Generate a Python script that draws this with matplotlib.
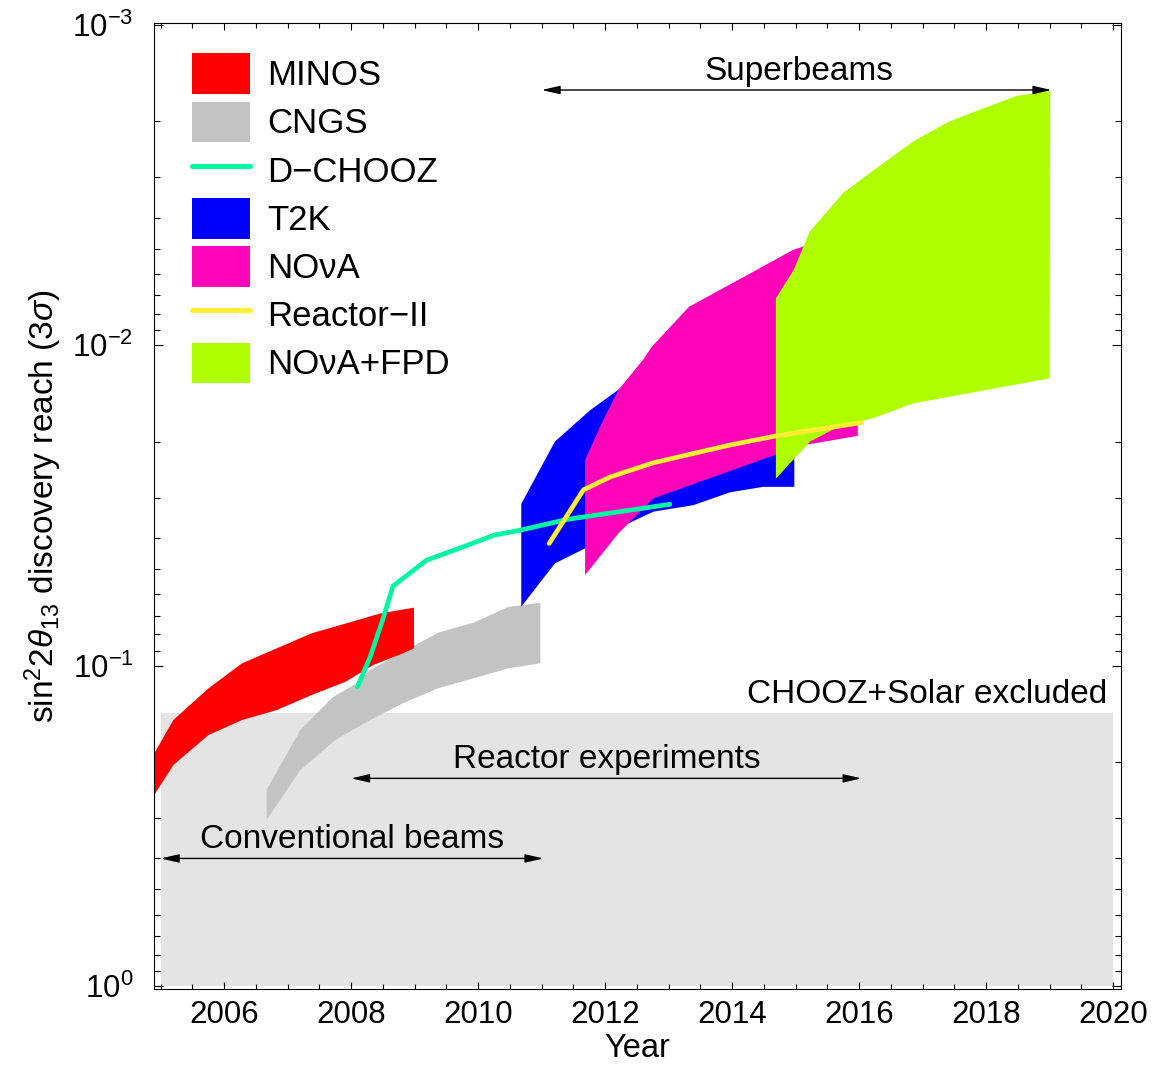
import numpy as np
import matplotlib
matplotlib.use('Agg')
from matplotlib import pyplot as plt
from matplotlib.patches import Patch
from matplotlib.lines import Line2D
from matplotlib.ticker import MultipleLocator, FixedLocator, LogLocator, LogFormatterSciNotation

plt.rcParams['font.family'] = ['Liberation Sans', 'DejaVu Sans']
plt.rcParams['mathtext.fontset'] = 'custom'
plt.rcParams['mathtext.rm'] = 'Liberation Sans'
plt.rcParams['mathtext.it'] = 'Liberation Sans:italic'

# --- data (year, sin^2 2theta13 reach) ---
minos_top_year = [2004.9, 2005.2, 2005.75, 2006.28, 2006.83, 2007.38, 2007.93, 2008.46, 2008.99]
minos_top = [0.188, 0.148, 0.118, 0.0985, 0.0884, 0.0793, 0.0738, 0.0688, 0.066]
minos_bot_year = [2004.9, 2005.2, 2005.75, 2006.28, 2006.83, 2007.38, 2007.91, 2008.35, 2008.82, 2008.99]
minos_bot = [0.2535, 0.2044, 0.165, 0.148, 0.1377, 0.1236, 0.1124, 0.0996, 0.0916, 0.0884]

cngs_top_year = [2006.67, 2007.20, 2007.72, 2008.09, 2008.30, 2008.82, 2009.37, 2009.93, 2010.48, 2010.98]
cngs_top = [0.2445, 0.159, 0.1252, 0.1136, 0.1033, 0.0906, 0.079, 0.0735, 0.0656, 0.0637]
cngs_bot_year = [2006.67, 2007.20, 2007.75, 2008.30, 2008.82, 2009.37, 2009.93, 2010.48, 2010.98]
cngs_bot = [0.303, 0.212, 0.1708, 0.148, 0.131, 0.1178, 0.1096, 0.102, 0.0985]

t2k_top_year = [2010.68, 2011.21, 2011.76, 2012.24, 2013.0, 2014.0, 2014.98]
t2k_top = [0.0313, 0.020, 0.016, 0.01365, 0.011, 0.009, 0.008]
t2k_bot_year = [2010.68, 2011.21, 2011.685, 2012.37, 2012.76, 2013.39, 2013.97, 2014.49, 2014.98]
t2k_bot = [0.0655, 0.048, 0.0431, 0.036, 0.0331, 0.0316, 0.0288, 0.0277, 0.0277]

nova_top_year = [2011.685, 2011.92, 2012.21, 2012.6, 2012.74, 2013.32, 2014.96, 2015.14, 2015.98]
nova_top = [0.02285, 0.018, 0.0138, 0.0111, 0.0101, 0.0076, 0.00505, 0.00491, 0.0042]
nova_bot_year = [2011.685, 2012.21, 2012.76, 2014.68, 2015.15, 2015.98]
nova_bot = [0.0522, 0.0387, 0.0301, 0.022, 0.0205, 0.0192]

fpd_top_year = [2014.69, 2014.97, 2015.22, 2015.75, 2016.30, 2016.86, 2017.41, 2017.91, 2018.48, 2019.01]
fpd_top = [0.00715, 0.00583, 0.00443, 0.00335, 0.00278, 0.00231, 0.00201, 0.00184, 0.00167, 0.00161]
fpd_bot_year = [2014.69, 2015.23, 2015.57, 2016.28, 2016.86, 2019.0]
fpd_bot = [0.0261, 0.02, 0.01842, 0.01675, 0.0152, 0.0127]

dchooz_year = [2008.10, 2008.30, 2008.48, 2008.66, 2009.19, 2009.70, 2010.25, 2010.67, 2011.40, 2013.02]
dchooz = [0.1165, 0.094, 0.0738, 0.0565, 0.0469, 0.0431, 0.0392, 0.0378, 0.035, 0.0314]

reactor2_year = [2011.12, 2011.66, 2012.08, 2012.76, 2013.97, 2014.70, 2015.60, 2016.04]
reactor2 = [0.0416, 0.0283, 0.0258, 0.0233, 0.0205, 0.0192, 0.018, 0.01747]

excl_year = [2005, 2020]
excl_lo, excl_hi = 0.1403, 1.0

labels = ['MINOS', 'CNGS', 'D\u2212CHOOZ', 'T2K', 'NO\u03bdA', 'Reactor\u2212II', 'NO\u03bdA+FPD']
colors = ['#ff0000', '#c3c3c3', '#00f7a2', '#0000ff', '#ff05b9', '#ffee33', '#b0ff00']


def band(ax, xt, yt, xb, yb, color, z):
    # closed polygon: top edge forward, bottom edge back
    xs = list(xt) + list(xb)[::-1]
    ys = list(yt) + list(yb)[::-1]
    ax.fill(xs, ys, color=color, lw=0, zorder=z)


fig = plt.figure(figsize=(11.6, 10.74), dpi=100)
ax = fig.add_axes([0.1330, 0.0789, 0.8331, 0.8999])
ax.set_yscale('log')

ax.fill_between(excl_year, excl_lo, excl_hi, color='#e4e4e4', lw=0, zorder=0)

band(ax, cngs_top_year, cngs_top, cngs_bot_year, cngs_bot, colors[1], 1)
band(ax, minos_top_year, minos_top, minos_bot_year, minos_bot, colors[0], 2)
band(ax, t2k_top_year, t2k_top, t2k_bot_year, t2k_bot, colors[3], 3)
band(ax, nova_top_year, nova_top, nova_bot_year, nova_bot, colors[4], 4)
band(ax, fpd_top_year, fpd_top, fpd_bot_year, fpd_bot, colors[6], 5)

ax.plot(dchooz_year, dchooz, color=colors[2], lw=3.4, solid_capstyle='round', zorder=6)
ax.plot(reactor2_year, reactor2, color=colors[5], lw=3.4, solid_capstyle='round', zorder=7)

ax.set_xlim(2004.9, 2020.12)
ax.set_ylim(1.024, 0.000987)

# arrows and annotation text
arr = dict(arrowstyle='<|-|>,head_length=1.1,head_width=0.25', color='black',
           lw=1.0, shrinkA=0, shrinkB=0, mutation_scale=10)
ax.annotate('', xy=(2019.03, 0.0016), xytext=(2011.0, 0.0016), arrowprops=arr, zorder=8)
ax.annotate('', xy=(2016.04, 0.225), xytext=(2008.0, 0.225), arrowprops=arr, zorder=8)
ax.annotate('', xy=(2011.03, 0.40), xytext=(2005.0, 0.40), arrowprops=arr, zorder=8)

ax.text(2015.05, 0.00149, 'Superbeams', fontsize=24, ha='center', va='baseline', zorder=8)
ax.text(2012.03, 0.2093, 'Reactor experiments', fontsize=24, ha='center', va='baseline', zorder=8)
ax.text(2008.01, 0.372, 'Conventional beams', fontsize=24, ha='center', va='baseline', zorder=8)
ax.text(2019.91, 0.1306, 'CHOOZ+Solar excluded', fontsize=24, ha='right', va='baseline', zorder=8)

# ticks
ax.xaxis.set_major_locator(FixedLocator(np.arange(2006, 2021, 2)))
ax.xaxis.set_minor_locator(MultipleLocator(0.5))
ax.set_xticklabels([str(y) for y in range(2006, 2021, 2)])
ax.yaxis.set_major_locator(LogLocator(base=10, numticks=10))
ax.yaxis.set_minor_locator(LogLocator(base=10, subs=np.arange(2, 10), numticks=20))
ax.yaxis.set_major_formatter(LogFormatterSciNotation())
ax.tick_params(which='both', direction='in', top=True, right=True, width=0.8)
ax.tick_params(which='major', length=6.5, labelsize=22.5)
ax.tick_params(which='minor', length=4)
ax.tick_params(axis='x', which='major', length=5, pad=8)
ax.tick_params(axis='x', which='minor', length=3.3)
ax.tick_params(axis='y', pad=15)
for s in ax.spines.values():
    s.set_linewidth(0.8)

ax.set_xlabel('Year', fontsize=23.5, labelpad=2)
ax.set_ylabel(r'sin$^2$2$\theta_{13}$ discovery reach (3$\sigma$)', fontsize=24, labelpad=6)

handles = [Patch(color=colors[0], lw=0), Patch(color=colors[1], lw=0),
           Line2D([], [], color=colors[2], lw=3.6, solid_capstyle='round'),
           Patch(color=colors[3], lw=0), Patch(color=colors[4], lw=0),
           Line2D([], [], color=colors[5], lw=3.6, solid_capstyle='round'),
           Patch(color=colors[6], lw=0)]
ax.legend(handles, labels, loc='upper left', bbox_to_anchor=(0.0393, 0.9683),
          frameon=False, fontsize=25, handlelength=1.67, handleheight=1.42,
          labelspacing=0.22, handletextpad=0.49, borderpad=0, borderaxespad=0)

fig.savefig('out.png', dpi=100)
